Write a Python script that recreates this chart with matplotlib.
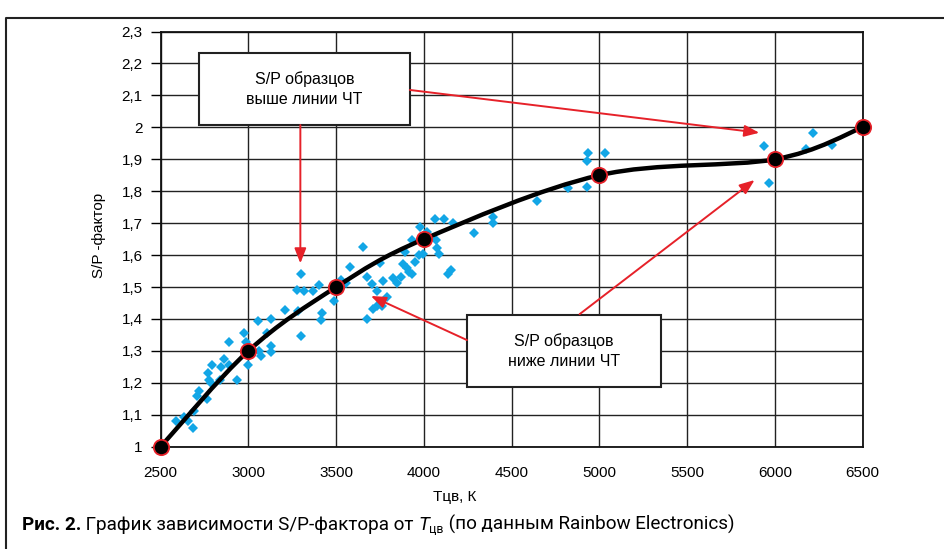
import matplotlib
matplotlib.use("Agg")
import matplotlib.pyplot as plt
from matplotlib.path import Path
from matplotlib.patches import PathPatch, Rectangle
from matplotlib.ticker import FuncFormatter

# линия ЧТ (узловые точки)
t_line = [2500, 3000, 3500, 4000, 5000, 6000, 6500]
sp_line = [1.0, 1.3, 1.5, 1.65, 1.85, 1.9, 2.0]

# образцы (Rainbow Electronics)
t_samples = [2976, 3104, 3298, 2891, 2986, 3128, 3062, 3070, 3128, 2862,
             2791, 2844, 2891, 2997, 2771, 2774, 2785, 2838, 2936, 2720,
             2709, 2762, 2690, 2587, 2633, 2657, 2686, 3651, 3298, 3278,
             3317, 3366, 3400, 3210, 3282, 3419, 3415, 3054, 3130, 3487,
             3526, 3556, 3579, 3677, 3708, 3731, 3761, 3731, 3704, 3677,
             3768, 3825, 3848, 3871, 3750, 3882, 3902, 3917, 3930, 3951,
             3890, 3970, 3996, 4076, 4087, 3932, 4069, 4061, 4114, 4167,
             3977, 4019, 4395, 4395, 4285, 4156, 4137, 3788, 4642, 4821,
             4927, 4931, 4935, 5033, 5938, 5968, 6218, 6177, 6325]
sp_samples = [1.357, 1.357, 1.347, 1.328, 1.328, 1.315, 1.300, 1.284, 1.296, 1.276,
              1.255, 1.249, 1.255, 1.255, 1.230, 1.209, 1.198, 1.209, 1.209, 1.175,
              1.159, 1.150, 1.113, 1.081, 1.092, 1.081, 1.058, 1.624, 1.541, 1.491,
              1.487, 1.487, 1.505, 1.428, 1.424, 1.420, 1.397, 1.394, 1.399, 1.457,
              1.522, 1.513, 1.562, 1.399, 1.430, 1.441, 1.441, 1.488, 1.509, 1.532,
              1.520, 1.528, 1.512, 1.532, 1.574, 1.572, 1.559, 1.548, 1.541, 1.578,
              1.611, 1.600, 1.604, 1.623, 1.604, 1.647, 1.647, 1.712, 1.714, 1.699,
              1.689, 1.672, 1.720, 1.699, 1.670, 1.552, 1.540, 1.470, 1.768, 1.810,
              1.812, 1.894, 1.920, 1.920, 1.941, 1.825, 1.981, 1.933, 1.946]

x_ticks = [2500, 3000, 3500, 4000, 4500, 5000, 5500, 6000, 6500]
y_ticks = [1.0, 1.1, 1.2, 1.3, 1.4, 1.5, 1.6, 1.7, 1.8, 1.9, 2.0, 2.1, 2.2, 2.3]

tick_font = ['Liberation Sans Narrow', 'Liberation Sans', 'DejaVu Sans']
box_font = ['Liberation Sans', 'DejaVu Sans']
cap_font = ['Roboto', 'DejaVu Sans']

RED = '#e62129'
BLUE = '#12a6e6'


def smooth_path(xs, ys):
    # сглаженная линия как в Excel (Безье по соседним узлам)
    pts = list(zip(xs, ys))
    n = len(pts)
    verts = [pts[0]]
    codes = [Path.MOVETO]
    for i in range(n - 1):
        p0 = pts[max(i - 1, 0)]
        p1 = pts[i]
        p2 = pts[i + 1]
        p3 = pts[min(i + 2, n - 1)]
        c1 = (p1[0] + (p2[0] - p0[0]) / 6, p1[1] + (p2[1] - p0[1]) / 6)
        c2 = (p2[0] - (p3[0] - p1[0]) / 6, p2[1] - (p3[1] - p1[1]) / 6)
        verts += [c1, c2, p2]
        codes += [Path.CURVE4] * 3
    return Path(verts, codes)


fig = plt.figure(figsize=(9.45, 5.49), dpi=100)
ax = fig.add_axes([0.170, 0.1863, 0.7429, 0.7563])

ax.set_xlim(2500, 6500)
ax.set_ylim(1.0, 2.3)
ax.set_xticks(x_ticks)
ax.set_yticks(y_ticks)
ax.yaxis.set_major_formatter(FuncFormatter(
    lambda v, p: str(int(round(v))) if abs(v - round(v)) < 1e-6 else f"{v:.1f}".replace('.', ',')))
ax.grid(True, color='#222222', linewidth=1.0)
ax.set_axisbelow(True)
for s in ax.spines.values():
    s.set_linewidth(1.3)
    s.set_color('#111111')
ax.tick_params(axis='y', length=7, width=1.0, pad=6, labelsize=11)
ax.tick_params(axis='x', length=0, pad=14, labelsize=11)
for lab in ax.get_xticklabels() + ax.get_yticklabels():
    lab.set_family(tick_font)

ax.plot(t_samples, sp_samples, linestyle='none', marker='D', markersize=5.2,
        color=BLUE, markeredgewidth=0, zorder=3)

ax.add_patch(PathPatch(smooth_path(t_line, sp_line), facecolor='none',
                       edgecolor='black', linewidth=3.2, zorder=4, clip_on=False))
ax.plot(t_line, sp_line, linestyle='none', marker='o', markersize=11,
        markerfacecolor='black', markeredgecolor=RED, markeredgewidth=1.3,
        zorder=5, clip_on=False)

# поясняющие рамки
boxes = [((2717, 2.007), 1203, 0.225, "S/P образцов\nвыше линии ЧТ"),
         ((4245, 1.187), 1105, 0.225, "S/P образцов\nниже линии ЧТ")]
for (x0, y0), w, h, txt in boxes:
    ax.add_patch(Rectangle((x0, y0), w, h, facecolor='white', edgecolor='#222222',
                           linewidth=1.5, zorder=6))
    ax.text(x0 + w / 2, y0 + h / 2, txt, ha='center', va='center', fontsize=11.5,
            family=box_font, linespacing=1.35, zorder=7)

arrows = [((3296, 2.007), (3296, 1.574)),
          ((3920, 2.117), (5911, 1.983)),
          ((4245, 1.334), (3698, 1.472)),
          ((4887, 1.415), (5884, 1.835))]
for tail, head in arrows:
    ax.annotate('', xy=head, xytext=tail,
                arrowprops=dict(arrowstyle='-|>,head_length=0.9,head_width=0.35',
                                color=RED, lw=1.4, shrinkA=0, shrinkB=0),
                zorder=8)

fig.text(0.4815, 1 - 497 / 549, 'Тцв, К', ha='center', va='center',
         fontsize=11, family=tick_font)
fig.text(0.105, 1 - 235 / 549, 'S/P -фактор', ha='center', va='center',
         rotation=90, fontsize=11, family=tick_font)

# рамка вокруг рисунка
fig.add_artist(plt.Line2D([6 / 945, 6 / 945, 1.0], [0.0, 1 - 18 / 549, 1 - 18 / 549],
                          transform=fig.transFigure, color='#222222', linewidth=1.5))

# подпись к рисунку
fig.canvas.draw()
renderer = fig.canvas.get_renderer()
base_y = 530
pieces = [("Рис. 2.", dict(weight='bold', size=13.6), 0),
          (" График зависимости S/P-фактора от ", dict(size=13.6), 0),
          ("T", dict(style='italic', size=13.6), 0),
          ("цв", dict(size=8.8), -3),
          (" (по данным Rainbow Electronics)", dict(size=13.6), 0)]
x_px = 22
for txt, kw, dy in pieces:
    t = fig.text(x_px / 945, 1 - (base_y - dy) / 549, txt, ha='left', va='baseline',
                 family=cap_font, **kw)
    x_px += t.get_window_extent(renderer).width

fig.savefig('out.png', dpi=100)
